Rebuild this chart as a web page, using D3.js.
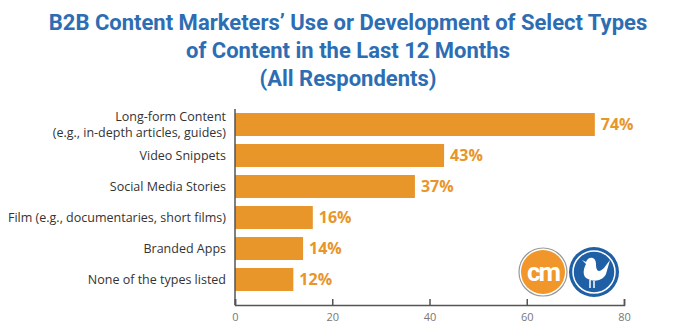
<!DOCTYPE html>
<html>
<head>
<meta charset="utf-8">
<script src="https://cdn.jsdelivr.net/npm/d3@7"></script>
<style>
  body { margin: 0; background: #fff; }
  svg { display: block; }
</style>
</head>
<body>
<div id="chart"></div>
<script>
const titleLines = [
    "B2B Content Marketers\u2019 Use or Development of Select Types",
    "of Content in the Last 12 Months",
    "(All Respondents)"
];
const categories = [
    ["Long-form Content", "(e.g., in-depth articles, guides)"],
    ["Video Snippets"],
    ["Social Media Stories"],
    ["Film (e.g., documentaries, short films)"],
    ["Branded Apps"],
    ["None of the types listed"]
];
const values = [74, 43, 37, 16, 14, 12];
const xTicks = [0, 20, 40, 60, 80];

const width = 673, height = 335;
const margin = { top: 109, right: 49, bottom: 30, left: 235 };
const innerW = width - margin.left - margin.right;
const innerH = height - margin.top - margin.bottom;

const svg = d3.select("#chart")
    .append("svg")
    .attr("width", width)
    .attr("height", height);

// title
svg.append("g")
    .selectAll("text")
    .data(titleLines)
    .join("text")
    .attr("x", 348)
    .attr("y", (d, i) => 30 + i * 28)
    .attr("text-anchor", "middle")
    .attr("font-family", "Roboto, sans-serif")
    .attr("font-weight", "bold")
    .attr("font-size", 22)
    .attr("fill", "#2d6db3")
    .text(d => d);

const g = svg.append("g")
    .attr("transform", `translate(${margin.left},${margin.top})`);

const x = d3.scaleLinear()
    .domain([0, 80])
    .range([0, innerW]);

const y = d3.scaleBand()
    .domain(d3.range(values.length))
    .range([0, innerH - 10])
    .paddingInner(0.26)
    .paddingOuter(0.13);

g.selectAll("rect.bar")
    .data(values)
    .join("rect")
    .attr("class", "bar")
    .attr("x", 0)
    .attr("y", (d, i) => y(i))
    .attr("width", d => x(d))
    .attr("height", y.bandwidth())
    .attr("fill", "#e8952a");

g.selectAll("text.val")
    .data(values)
    .join("text")
    .attr("class", "val")
    .attr("x", d => x(d) + 6)
    .attr("y", (d, i) => y(i) + y.bandwidth() / 2)
    .attr("dy", "0.36em")
    .attr("font-family", "'Open Sans', sans-serif")
    .attr("font-weight", "bold")
    .attr("font-size", 16)
    .attr("fill", "#e8952a")
    .text(d => d + "%");

// category labels
const lab = g.selectAll("text.cat")
    .data(categories)
    .join("text")
    .attr("class", "cat")
    .attr("x", -9)
    .attr("y", (d, i) => y(i) + y.bandwidth() / 2)
    .attr("text-anchor", "end")
    .attr("font-family", "'Open Sans', sans-serif")
    .attr("font-size", 12.5)
    .attr("fill", "#333");
lab.selectAll("tspan")
    .data(d => d.map((t, j) => ({ t, j, n: d.length })))
    .join("tspan")
    .attr("x", -9)
    .attr("dy", d => d.j === 0 ? (0.36 - (d.n - 1) * 0.67) + "em" : "1.34em")
    .text(d => d.t);

// x axis, ticks pointing up
const xAxis = g.append("g")
    .attr("transform", `translate(0,${innerH})`)
    .call(d3.axisBottom(x).tickValues(xTicks).tickSizeInner(-6).tickSizeOuter(-6).tickPadding(8));
xAxis.select(".domain").attr("stroke", "#555").attr("stroke-width", 1.5);
xAxis.selectAll(".tick line").attr("stroke", "#555").attr("stroke-width", 1.5);
xAxis.selectAll(".tick text")
    .attr("font-family", "'Open Sans', sans-serif")
    .attr("font-size", 11)
    .attr("fill", "#777");

// y axis line
g.append("line")
    .attr("x1", 0).attr("x2", 0)
    .attr("y1", 0).attr("y2", innerH)
    .attr("stroke", "#555")
    .attr("stroke-width", 1.5);

// logos
const cm = svg.append("g").attr("transform", "translate(543,272)");
cm.append("circle").attr("r", 24).attr("fill", "#fff").attr("stroke", "#999").attr("stroke-width", 1.2);
cm.append("circle").attr("r", 22).attr("fill", "#f0962a");
cm.append("text")
    .attr("text-anchor", "middle")
    .attr("dy", "0.33em")
    .attr("font-family", "Roboto, sans-serif")
    .attr("font-weight", "bold")
    .attr("font-size", 26)
    .attr("fill", "#fff")
    .attr("letter-spacing", -2)
    .text("cm");

const bird = svg.append("g").attr("transform", "translate(594,272)");
bird.append("circle").attr("r", 25).attr("fill", "#1f5fa5");
bird.append("circle").attr("r", 21).attr("fill", "none").attr("stroke", "#fff").attr("stroke-width", 1.5);
bird.append("path")
    .attr("d", "M-12,-12 L-8,-10 C-6,-16 2,-16 2,-8 C2,-2 4,2 10,-4 L16,-12 L12,2 C8,10 -2,10 -8,6 C-12,2 -10,-4 -8,-8 Z")
    .attr("fill", "#fff");
bird.append("path")
    .attr("d", "M-4,8 L-4,16 M0,9 L0,16")
    .attr("stroke", "#fff")
    .attr("stroke-width", 1.5);
</script>
</body>
</html>
